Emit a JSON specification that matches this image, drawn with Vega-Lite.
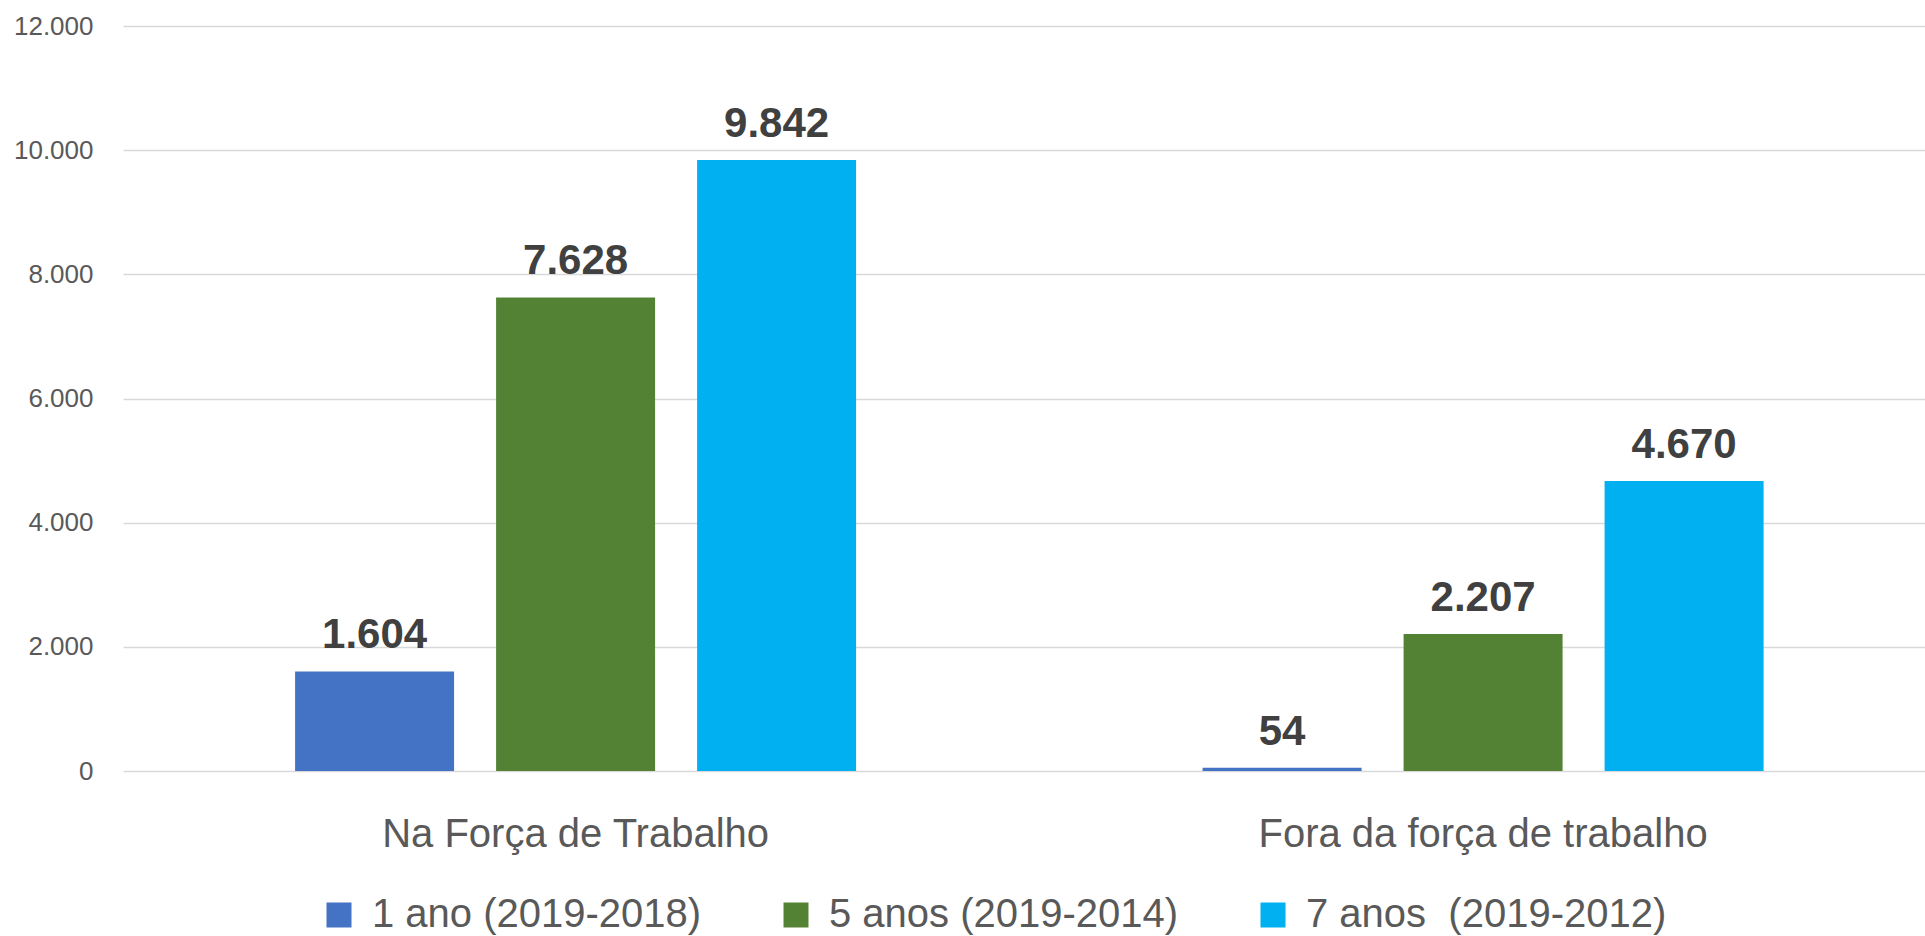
{
  "$schema": "https://vega.github.io/schema/vega-lite/v6.json",
  "width": 1802,
  "height": 745,
  "autosize": {"type": "none"},
  "padding": {"left": 123, "top": 26, "right": 0, "bottom": 165},
  "background": "white",
  "config": {
    "locale": {"number": {"decimal": ",", "thousands": ".", "grouping": [3], "currency": ["R$", ""]}},
    "view": {"stroke": null},
    "font": "Liberation Sans"
  },
  "data": {
    "values": [
      {"categoria": "Na Força de Trabalho", "periodo": "1 ano (2019-2018)", "valor": 1604},
      {"categoria": "Na Força de Trabalho", "periodo": "5 anos (2019-2014)", "valor": 7628},
      {"categoria": "Na Força de Trabalho", "periodo": "7 anos\u00a0 (2019-2012)", "valor": 9842},
      {"categoria": "Fora da força de trabalho", "periodo": "1 ano (2019-2018)", "valor": 54},
      {"categoria": "Fora da força de trabalho", "periodo": "5 anos (2019-2014)", "valor": 2207},
      {"categoria": "Fora da força de trabalho", "periodo": "7 anos\u00a0 (2019-2012)", "valor": 4670}
    ]
  },
  "encoding": {
    "x": {
      "field": "categoria",
      "type": "nominal",
      "sort": ["Na Força de Trabalho", "Fora da força de trabalho"],
      "scale": {"paddingInner": 0.3818, "paddingOuter": 0.18375, "align": 0.516},
      "axis": {
        "title": null,
        "labelAngle": 0,
        "ticks": false,
        "domain": false,
        "grid": false,
        "labelFont": "Liberation Sans",
        "labelFontSize": 40,
        "labelColor": "#595959",
        "labelBaseline": "alphabetic",
        "labelPadding": 75,
        "labelLimit": 0
      }
    },
    "xOffset": {
      "field": "periodo",
      "type": "nominal",
      "sort": ["1 ano (2019-2018)", "5 anos (2019-2014)", "7 anos\u00a0 (2019-2012)"],
      "scale": {"paddingInner": 0.209, "paddingOuter": 0}
    },
    "y": {
      "field": "valor",
      "type": "quantitative",
      "scale": {"domain": [0, 12000], "nice": false},
      "axis": {
        "title": null,
        "values": [0, 2000, 4000, 6000, 8000, 10000, 12000],
        "format": ",d",
        "ticks": false,
        "domain": false,
        "grid": true,
        "gridColor": "#D9D9D9",
        "gridWidth": 1.5,
        "labelFont": "Liberation Sans",
        "labelFontSize": 26,
        "labelColor": "#595959",
        "labelPadding": 30
      }
    }
  },
  "layer": [
    {
      "mark": {"type": "bar"},
      "encoding": {
        "color": {
          "field": "periodo",
          "type": "nominal",
          "sort": ["1 ano (2019-2018)", "5 anos (2019-2014)", "7 anos\u00a0 (2019-2012)"],
          "scale": {
            "domain": ["1 ano (2019-2018)", "5 anos (2019-2014)", "7 anos\u00a0 (2019-2012)"],
            "range": ["#4472C4", "#548235", "#00B0F0"]
          },
          "legend": {
            "title": null,
            "orient": "none",
            "direction": "horizontal",
            "legendX": 196,
            "legendY": 869,
            "padding": 0,
            "symbolType": "square",
            "symbolSize": 625,
            "symbolStrokeWidth": 0,
            "labelFont": "Liberation Sans",
            "labelFontSize": 40,
            "labelColor": "#595959",
            "labelOffset": 13,
            "labelLimit": 0,
            "columnPadding": 74
          }
        }
      }
    },
    {
      "mark": {
        "type": "text",
        "baseline": "alphabetic",
        "dy": -23,
        "font": "Liberation Sans",
        "fontWeight": "bold",
        "fontSize": 42,
        "color": "#404040"
      },
      "encoding": {
        "text": {"field": "valor", "type": "quantitative", "format": ",d"}
      }
    }
  ]
}
